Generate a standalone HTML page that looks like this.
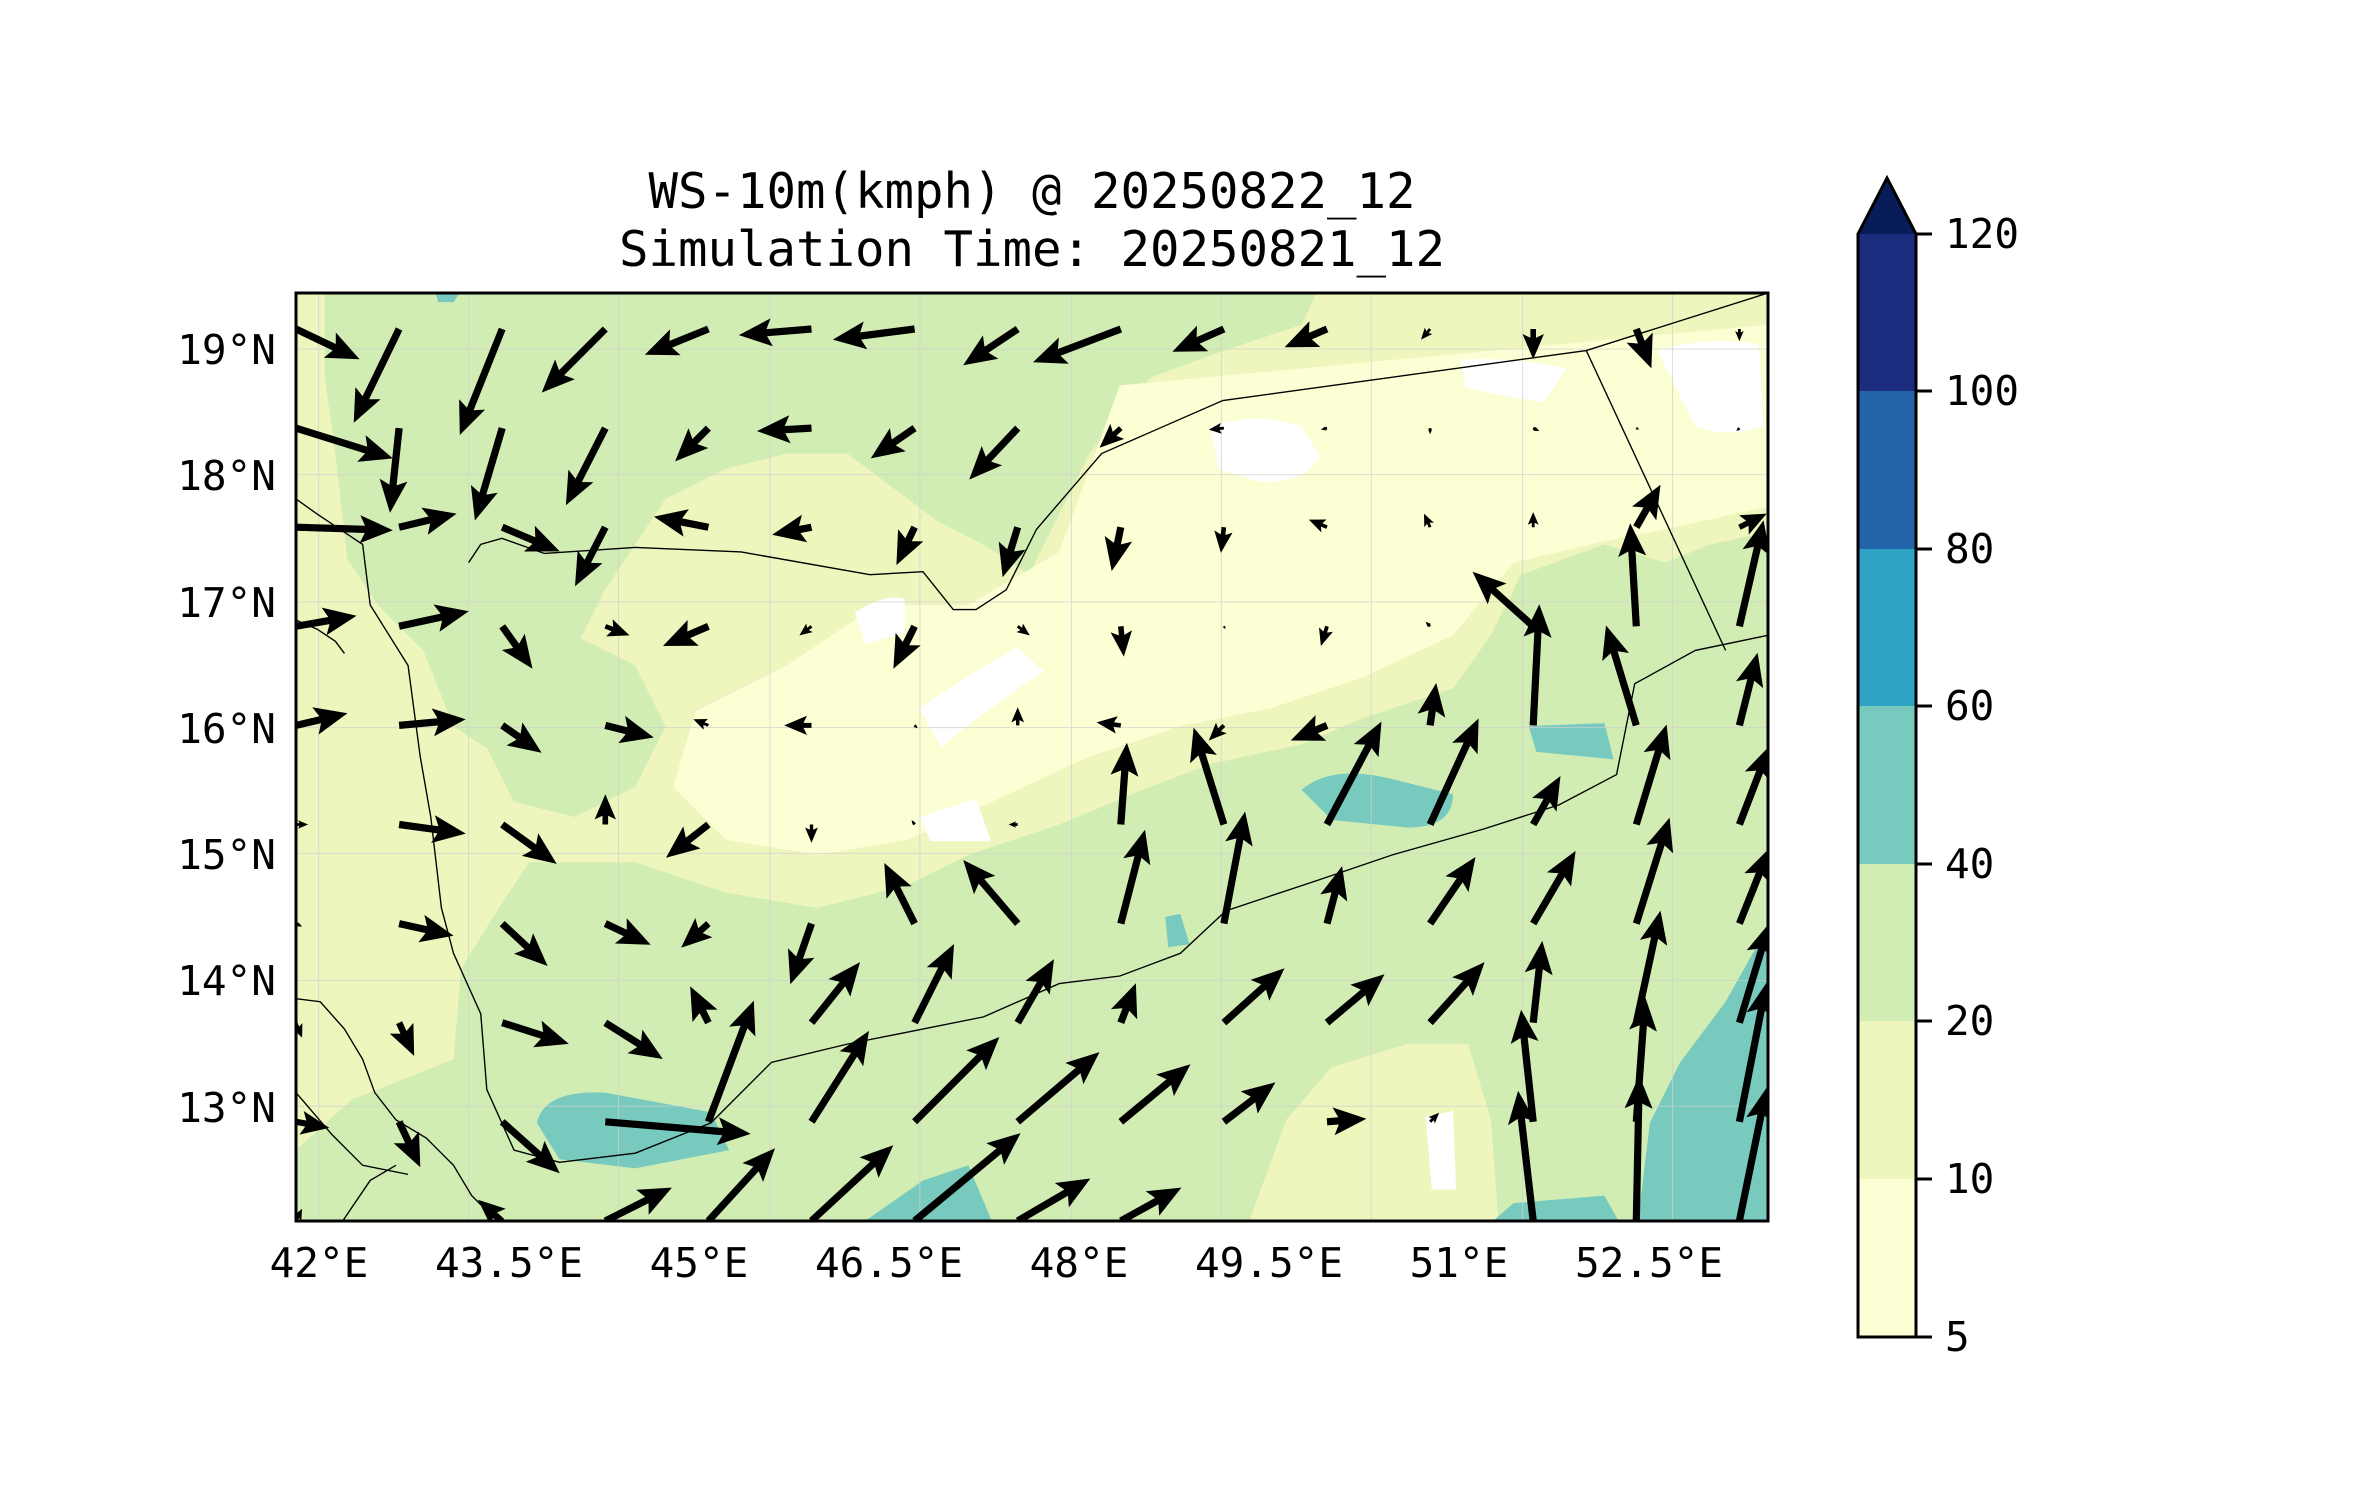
<!DOCTYPE html>
<html><head><meta charset="utf-8"><style>
html,body{margin:0;padding:0;background:#fff;}
svg{display:block;font-family:"DejaVu Sans Mono","Liberation Mono",monospace;}
</style></head><body>
<svg id="fig" width="2371" height="1500" viewBox="0 0 2371 1500" xmlns="http://www.w3.org/2000/svg">
<defs><clipPath id="mapclip"><rect x="296" y="293" width="1472" height="928"/></clipPath></defs>
<text x="1032" y="208" font-size="49" text-anchor="middle">WS-10m(kmph) @ 20250822_12</text>
<text x="1032" y="266" font-size="49" text-anchor="middle">Simulation Time: 20250821_12</text>
<g clip-path="url(#mapclip)">
<g transform="translate(296,293) scale(1.5144) translate(-196,-194)">
<rect x="190" y="190" width="990" height="630" fill="#eef6be"/>
<path fill="#d2edb4" d="M215,194 L870,194 L860,215 L800,235 L760,250 L720,300 L700,340 L680,380 L650,360 L620,345 L600,330 L560,300 L520,300 L480,310 L440,330 L420,360 L400,390 L380,430 L360,470 L330,500 L300,480 L280,430 L250,400 L230,370 L222,300 L215,250 Z"/>
<path fill="#d2edb4" d="M320,420 L360,410 L420,440 L440,480 L420,520 L380,540 L340,530 L320,490 Z"/>
<path fill="#d2edb4" d="M196,808 L196,760 L240,720 L300,700 L305,640 L330,600 L350,570 L420,570 L480,590 L540,600 L600,585 L640,565 L700,545 L760,520 L800,505 L860,492 L900,475 L960,455 L985,420 L1005,380 L1060,360 L1100,372 L1130,360 L1168,352 L1168,808 Z"/>
<path fill="#eef6be" d="M825,808 L850,740 L880,705 L930,690 L970,690 L985,740 L990,808 Z"/>
<path fill="#eef6be" d="M196,420 L260,440 L290,520 L300,620 L300,700 L250,720 L196,740 Z"/>
<path fill="#fcfed4" d="M740,255 L1168,215 L1168,335 L1100,350 L1060,358 L1000,372 L960,420 L900,448 L840,468 L780,480 L720,500 L660,528 L600,555 L540,565 L480,555 L445,520 L460,470 L520,440 L580,400 L640,400 L700,365 Z"/>
<g fill="#ffffff">
<path d="M800,282 Q830,272 860,282 L872,302 Q860,322 830,318 L805,310 Z"/>
<path d="M1095,232 Q1130,222 1162,228 L1165,282 Q1140,290 1120,282 Z"/>
<path d="M965,238 Q1000,236 1035,244 L1020,266 Q990,262 968,256 Z"/>
<path d="M565,405 Q585,392 598,396 L598,418 L572,426 Z"/>
<path d="M608,468 Q640,446 672,428 L690,444 Q650,470 622,494 Z"/>
<path d="M608,540 L645,528 L655,556 L615,556 Z"/>
<path d="M942,738 L960,734 L962,786 L946,786 Z"/>
</g>
<g fill="#78cabe">
<path d="M860,522 Q880,505 920,515 L960,525 Q960,547 930,547 L880,542 Z"/>
<path d="M1010,480 L1060,478 L1066,502 L1015,497 Z"/>
<path d="M355,742 Q360,720 400,722 L470,735 L482,760 L420,772 L370,766 Z"/>
<path d="M570,808 L610,780 L640,770 L656,808 Z"/>
<path d="M1168,612 L1140,662 L1110,702 L1090,742 L1082,808 L1168,808 Z"/>
<path d="M985,808 L1000,795 L1060,790 L1070,808 Z"/>
<path d="M770,606 L780,604 L786,624 L772,626 Z"/>
<path d="M288,194 L304,194 L300,200 L290,200 Z"/>
</g>
<g stroke="#d0d0d0" stroke-width="0.6" fill="none" opacity="0.8">
<path d="M211,194V808M310,194V808M409,194V808M509,194V808M608,194V808M708,194V808M807,194V808M906,194V808M1006,194V808M1105,194V808"/>
<path d="M196,231H1168M196,314H1168M196,398H1168M196,481H1168M196,564H1168M196,648H1168M196,731H1168"/>
</g>
<g stroke="#000" stroke-width="0.9" fill="none">
<path d="M310,372 L318,360 L332,356 L360,366 L420,362 L490,365 L575,380 L610,378 L630,403 L645,403 L665,390 L685,350 L728,300 L808,265 L1048,232 L1168,194"/>
<path d="M1048,232 L1140,430"/>
<path d="M196,330 L210,340 L240,360 L245,400 L270,440 L278,500 L285,540 L292,600 L300,630 L318,670 L322,720 L340,760 L370,768 L420,762 L470,742 L510,702 L560,690 L600,682 L650,672 L700,650 L740,645 L780,630 L810,602 L870,582 L920,565 L980,548 L1030,532 L1068,512 L1080,452 L1120,430 L1168,420"/>
<path d="M196,660 L212,662 L228,680 L240,700 L248,722 L262,740 L282,752 L300,770 L312,790 L330,808"/>
<path d="M196,722 L220,750 L240,770 L270,776"/>
<path d="M226,808 L245,780 L262,770"/>
<path d="M196,410 L210,416 L222,424 L228,432"/>
</g>
</g>
<g id="quiver"></g>
</g>
<rect x="296" y="293" width="1472" height="928" fill="none" stroke="#000" stroke-width="3"/>
<g font-size="41">
<text x="276" y="364" text-anchor="end">19°N</text>
<text x="276" y="490" text-anchor="end">18°N</text>
<text x="276" y="617" text-anchor="end">17°N</text>
<text x="276" y="743" text-anchor="end">16°N</text>
<text x="276" y="869" text-anchor="end">15°N</text>
<text x="276" y="995" text-anchor="end">14°N</text>
<text x="276" y="1122" text-anchor="end">13°N</text>
</g>
<g font-size="41" text-anchor="middle">
<text x="319" y="1277">42°E</text>
<text x="509" y="1277">43.5°E</text>
<text x="699" y="1277">45°E</text>
<text x="889" y="1277">46.5°E</text>
<text x="1079" y="1277">48°E</text>
<text x="1269" y="1277">49.5°E</text>
<text x="1459" y="1277">51°E</text>
<text x="1649" y="1277">52.5°E</text>
</g>
<g>
<rect x="1858" y="1179" width="58" height="158" fill="#fcfed4"/>
<rect x="1858" y="1021" width="58" height="158" fill="#eef6be"/>
<rect x="1858" y="864" width="58" height="157" fill="#d2edb4"/>
<rect x="1858" y="706" width="58" height="158" fill="#78cabe"/>
<rect x="1858" y="549" width="58" height="157" fill="#2ea3c3"/>
<rect x="1858" y="391" width="58" height="158" fill="#2263aa"/>
<rect x="1858" y="234" width="58" height="157" fill="#1c2c7f"/>
<path d="M1858,234 L1887,178 L1916,234 Z" fill="#081d58"/>
<path d="M1858,1337 L1858,234 L1887,178 L1916,234 L1916,1337 Z" fill="none" stroke="#000" stroke-width="3"/>
<g stroke="#000" stroke-width="3">
<path d="M1916,234H1932M1916,391H1932M1916,549H1932M1916,706H1932M1916,864H1932M1916,1021H1932M1916,1179H1932M1916,1337H1932"/>
</g>
<g font-size="41">
<text x="1945" y="248">120</text><text x="1945" y="405">100</text><text x="1945" y="563">80</text>
<text x="1945" y="720">60</text><text x="1945" y="878">40</text><text x="1945" y="1035">20</text>
<text x="1945" y="1193">10</text><text x="1945" y="1351">5</text>
</g>
</g>
</svg>
<script>
// wind components per grid row (u east, v north), rows north->south, 15 columns each
const u0=[42,-30,-28,-42,-42,-48,-54,-36,-58,-34,-28,-6,0,10,0];
const v0=[-20,-62,-70,-42,-17,-4,-7,-24,-22,-15,-12,-7,-20,-26,-8];
const u1=[64,-6,-18,-26,-22,-36,-29,-32,-14,-10,-4,0,4,2,-2];
const v1=[-20,-56,-61,-51,-22,-2,-20,-34,-13,-1,-1,-4,-2,-1,-2];
const u2=[64,38,38,-20,-36,-26,-12,-10,-6,-2,-12,-4,0,16,18];
const v2=[-2,9,-16,-39,7,-5,-25,-33,-29,-17,5,9,10,28,9];
const u3=[40,46,20,16,-30,-8,-14,8,2,1,-4,-3,-40,-4,16];
const v3=[7,10,-28,-6,-13,-6,-28,-6,-20,-2,-13,3,36,68,70];
const u4=[34,44,26,32,-10,-18,2,0,-16,-10,-24,4,4,-20,12];
const v4=[8,4,-18,-8,4,0,-2,12,2,-10,-10,28,80,66,48];
const u5=[8,44,36,0,-28,0,-2,-6,4,-20,36,32,18,20,20];
const v5=[0,-6,-26,20,-22,-12,3,0,54,64,68,70,32,66,52];
const u6=[4,36,30,30,-18,-14,-20,-36,16,14,10,30,28,22,20];
const v6=[-2,-8,-28,-14,-16,-40,40,42,62,74,38,44,48,70,50];
const u7=[4,10,44,38,-12,32,26,24,10,40,38,36,6,16,20];
const v7=[-10,-22,-14,-24,24,40,52,42,26,36,32,40,54,74,66];
const u8=[22,14,38,96,30,38,56,54,46,34,26,6,-8,6,18];
const v8=[-4,-30,-34,-8,80,60,56,46,38,26,2,6,74,82,92];
const u9=[4,0,-16,44,44,54,70,48,40,0,0,0,-10,2,18];
const v9=[8,0,14,22,48,50,58,28,22,0,0,0,86,96,88];
const uRows=[u0,u1,u2,u3,u4,u5,u6,u7,u8,u9];
const vRows=[v0,v1,v2,v3,v4,v5,v6,v7,v8,v9];
const NS='http://www.w3.org/2000/svg';
const g=document.getElementById('quiver');
function gx(i){return 296+i*103.1;}
function gy(j){return 329+j*99.1;}
const SC=1.5144;
uRows.forEach(function(ur,j){
  ur.forEach(function(uu,i){
    const vv=vRows[j][i];
    const dx=uu*SC, dy=-vv*SC;
    const L=Math.hypot(dx,dy);
    if(L<1) return;
    const x0=gx(i), y0=gy(j);
    const ux=dx/L, uy=dy/L, px=-uy, py=ux;
    let hl=33, hw=14, sw=3.6;
    const f=Math.min(1,L/(hl*1.2));
    hl*=f; hw*=f; sw*=Math.max(f,0.4);
    const bx=x0+ux*(L-hl*0.85), by=y0+uy*(L-hl*0.85);
    const cx=x0+ux*(L-hl), cy=y0+uy*(L-hl);
    const tx=x0+dx, ty=y0+dy;
    const pts=[
      [x0+px*sw,y0+py*sw],[bx+px*sw,by+py*sw],[cx+px*hw,cy+py*hw],[tx,ty],
      [cx-px*hw,cy-py*hw],[bx-px*sw,by-py*sw],[x0-px*sw,y0-py*sw]];
    const p=document.createElementNS(NS,'polygon');
    p.setAttribute('points',pts.map(function(q){return q[0].toFixed(1)+','+q[1].toFixed(1);}).join(' '));
    p.setAttribute('fill','#000');
    
    
    g.appendChild(p);
  });
});
</script>
</body></html>
